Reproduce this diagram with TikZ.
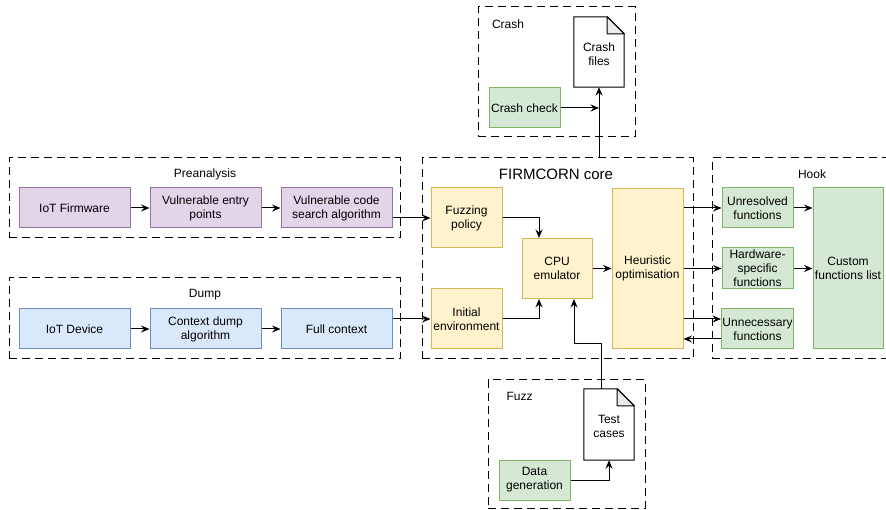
\documentclass[tikz,border=0pt]{standalone}
\usepackage{fontspec}
\setmainfont{Liberation Sans}
\usetikzlibrary{arrows.meta,calc}

\definecolor{purplefill}{HTML}{E1D5E7}
\definecolor{purpleline}{HTML}{9673A6}
\definecolor{bluefill}{HTML}{DAE8FC}
\definecolor{blueline}{HTML}{6C8EBF}
\definecolor{yellowfill}{HTML}{FFF2CC}
\definecolor{yellowline}{HTML}{D6B656}
\definecolor{greenfill}{HTML}{D5E8D4}
\definecolor{greenline}{HTML}{82B366}
\definecolor{foldgray}{HTML}{EBEBEB}

% folded-corner document outline drawn around an (invisible) node
\newcommand{\docoutline}[1]{%
  \draw[line width=1pt, fill=white]
    (#1.south west) -- (#1.north west) -- ($(#1.north east)+(-17,0)$)
    -- ($(#1.north east)+(0,17)$) -- (#1.south east) -- cycle;
  \draw[line width=1pt, fill=foldgray, line join=round]
    ($(#1.north east)+(-17,0)$) -- ($(#1.north east)+(-17,17)$)
    -- ($(#1.north east)+(0,17)$) -- cycle;
}

\begin{document}
\begin{tikzpicture}[x=1pt, y=-1pt,
  every node/.style={font=\fontsize{12}{14}\selectfont, align=center, inner sep=1pt},
  group/.style={draw, line width=1pt, dash pattern=on 8pt off 5pt, fill=none},
  grouptitle/.style={font=\fontsize{12}{14}\selectfont},
  pbox/.style={draw=purpleline, fill=purplefill, line width=1pt},
  bbox/.style={draw=blueline, fill=bluefill, line width=1pt},
  ybox/.style={draw=yellowline, fill=yellowfill, line width=1pt},
  gbox/.style={draw=greenline, fill=greenfill, line width=1pt},
  docbox/.style={draw=none, minimum width=50pt},
  arr/.style={-{Stealth[length=8.5pt, width=7pt, inset=3pt]}, line width=1pt},
  link/.style={line width=1pt}
]
\path[use as bounding box, clip] (0,0) rectangle (886,510);
\fill[white] (0,0) rectangle (886,510);

% ---------- dashed group frames ----------
\node[group, minimum width=391pt, minimum height=80pt]  (pre)   at (204.5,198) {};
\node[group, minimum width=391pt, minimum height=81pt]  (dump)  at (204.5,318.5) {};
\node[group, minimum width=271pt, minimum height=201pt] (core)  at (557.5,258.5) {};
\node[group, minimum width=190pt, minimum height=201pt] (hook)  at (807,258.5) {};
\node[group, minimum width=157pt, minimum height=130pt] (crash) at (556.5,72) {};
\node[group, minimum width=157pt, minimum height=128pt] (fuzz)  at (566.5,444) {};

\node[grouptitle] (pretitle)   at (205,174) {Preanalysis};
\node[grouptitle] (dumptitle)  at (205,295) {Dump};
\node[font=\fontsize{15}{18}\selectfont] (coretitle) at (556,174) {FIRMCORN core};
\node[grouptitle] (hooktitle)  at (812,174) {Hook};
\node[grouptitle] (crashtitle) at (508,24) {Crash};
\node[grouptitle] (fuzztitle)  at (519.5,396) {Fuzz};

% ---------- preanalysis ----------
\node[pbox, minimum width=111pt, minimum height=40pt] (fw)  at (74.5,208) {IoT Firmware};
\node[pbox, minimum width=111pt, minimum height=40pt] (vep) at (205.5,208) {Vulnerable entry\\points};
\node[pbox, minimum width=111pt, minimum height=40pt] (vcs) at (336.5,208) {Vulnerable code\\search algorithm};

% ---------- dump ----------
\node[bbox, minimum width=111pt, minimum height=40pt] (dev)  at (74.5,329) {IoT Device};
\node[bbox, minimum width=111pt, minimum height=40pt] (ctx)  at (205.5,329) {Context dump\\algorithm};
\node[bbox, minimum width=111pt, minimum height=40pt] (full) at (336.5,329) {Full context};

% ---------- core ----------
\node[ybox, minimum width=71pt, minimum height=60pt]  (fp)   at (466.5,218) {Fuzzing\\policy};
\node[ybox, minimum width=71pt, minimum height=60pt]  (ie)   at (466.5,319) {Initial\\environment};
\node[ybox, minimum width=70pt, minimum height=60pt]  (cpu)  at (557,268.5) {CPU\\emulator};
\node[ybox, minimum width=71pt, minimum height=160pt] (heur) at (647.5,268.5) {Heuristic\\optimisation};

% ---------- hook ----------
\node[gbox, minimum width=71pt, minimum height=40pt]  (unres) at (757.5,208) {Unresolved\\functions};
\node[gbox, minimum width=71pt, minimum height=41pt]  (hw)    at (757.5,268.5) {Hardware-\\specific\\functions};
\node[gbox, minimum width=71pt, minimum height=40pt]  (unn)   at (757.5,329) {Unnecessary\\functions};
\node[gbox, minimum width=70pt, minimum height=161pt] (cust)  at (848,268.5) {Custom\\functions list};

% ---------- crash ----------
\node[docbox, minimum height=70pt] (cfiles) at (599,52) {};
\docoutline{cfiles}
\node (cfilestext) at (599,54) {Crash\\files};
\node[gbox, minimum width=71pt, minimum height=40pt] (ccheck) at (524.5,108) {Crash check};

% ---------- fuzz ----------
\node[docbox, minimum height=71pt] (tcases) at (609,424.5) {};
\docoutline{tcases}
\node (tcasestext) at (609,426) {Test\\cases};
\node[gbox, minimum width=71pt, minimum height=40pt] (dgen) at (534.5,480) {Data\\generation};

% ---------- connectors ----------
\draw[arr] (fw) -- (vep);
\draw[arr] (vep) -- (vcs);
\draw[arr] (vcs.east |- fp.west) -- (fp.west);

\draw[arr] (dev) -- (ctx);
\draw[arr] (ctx) -- (full);
\draw[arr] (full.east |- ie.west) -- (ie.west);

\draw[arr] (fp.east) -| ($(cpu.north)+(-18,0)$);
\draw[arr] (ie.east) -| ($(cpu.south)+(-18,0)$);
\draw[arr] (cpu) -- (heur);

\coordinate (unnin)  at ($(unn.west)+(0,-10)$);
\coordinate (unnout) at ($(unn.west)+(0,10)$);
\draw[arr] (heur.east |- unres.west) -- (unres.west);
\draw[arr] (heur.east |- hw.west) -- (hw.west);
\draw[arr] (heur.east |- unnin) -- (unnin);
\draw[arr] (unnout) -- (heur.east |- unnout);
\draw[arr] (unres.east) -- (cust.west |- unres.east);
\draw[arr] (hw.east) -- (cust.west |- hw.east);

\draw[arr] (ccheck.east) -- (cfiles.south |- ccheck.east);
\draw[arr] (cfiles.south |- core.north) -- (cfiles.south);

\draw[arr] (dgen.east) -| (tcases.south);
\coordinate (tctop) at ($(tcases.north)+(-8,0)$);
\draw[arr] (tctop) -- ($(tctop)+(0,-45)$) -| ($(cpu.south)+(17,0)$);
\end{tikzpicture}
\end{document}
